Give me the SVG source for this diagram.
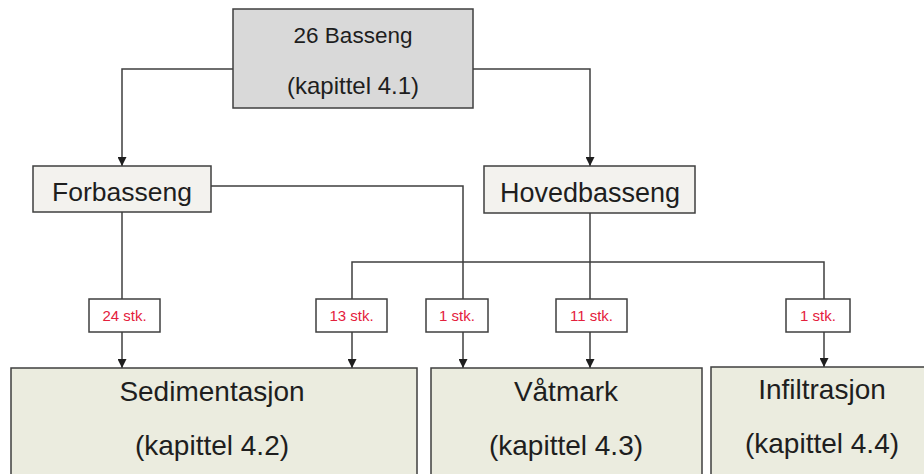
<svg xmlns="http://www.w3.org/2000/svg" width="924" height="474" viewBox="0 0 924 474">
<style>
.box{stroke:#3f3f3f;stroke-width:1.5}
.top{fill:#d9d9d9}
.mid{fill:#f3f2ee}
.bot{fill:#ebecdf}
.lbl{fill:#ffffff;stroke:#3f3f3f;stroke-width:1.5}
.t{font-family:"Liberation Sans",Arial,sans-serif;fill:#1e1e1e;text-anchor:middle}
.r{font-family:"Liberation Sans",Arial,sans-serif;fill:#e4203c;text-anchor:middle;font-size:15px}
.c{fill:none;stroke:#3f3f3f;stroke-width:1.5}
</style>
<defs>
<marker id="ah" viewBox="0 0 10 10" refX="10" refY="5" markerWidth="9" markerHeight="9" markerUnits="userSpaceOnUse" orient="auto">
<path d="M0,0 L10,5 L0,10 Z" fill="#1e1e1e"/>
</marker>
</defs>
<rect width="924" height="474" fill="#ffffff"/>
<g id="connectors">
<path class="c" d="M233,69 H122 V166" marker-end="url(#ah)"/>
<path class="c" d="M473,69 H590 V166" marker-end="url(#ah)"/>
<path class="c" d="M122,212 V299"/>
<path class="c" d="M122,332 V368" marker-end="url(#ah)"/>
<path class="c" d="M211,186 H463 V299"/>
<path class="c" d="M463,332 V368" marker-end="url(#ah)"/>
<path class="c" d="M590,213 V299"/>
<path class="c" d="M352,299 V262 H824 V299"/>
<path class="c" d="M352,332 V368" marker-end="url(#ah)"/>
<path class="c" d="M590,332 V368" marker-end="url(#ah)"/>
<path class="c" d="M824,332 V367" marker-end="url(#ah)"/>
</g>
<g id="basseng">
<rect class="box top" x="233" y="9" width="240" height="99"/>
<text class="t" x="353" y="43" font-size="22.5">26 Basseng</text>
<text class="t" x="353" y="94" font-size="24">(kapittel 4.1)</text>
</g>
<g id="forbasseng">
<rect class="box mid" x="33" y="166" width="178" height="46"/>
<text class="t" x="122" y="201" font-size="26.5">Forbasseng</text>
</g>
<g id="hovedbasseng">
<rect class="box mid" x="484" y="166" width="211" height="47"/>
<text class="t" x="590" y="202" font-size="27">Hovedbasseng</text>
</g>
<g id="label-24">
<rect class="lbl" x="89" y="299" width="71" height="33"/>
<text class="r" x="124.5" y="321">24 stk.</text>
</g>
<g id="label-13">
<rect class="lbl" x="316" y="299" width="71" height="33"/>
<text class="r" x="351.5" y="321">13 stk.</text>
</g>
<g id="label-1a">
<rect class="lbl" x="426" y="299" width="62" height="33"/>
<text class="r" x="457" y="321">1 stk.</text>
</g>
<g id="label-11">
<rect class="lbl" x="556" y="299" width="71" height="33"/>
<text class="r" x="591.5" y="321">11 stk.</text>
</g>
<g id="label-1b">
<rect class="lbl" x="786" y="299" width="64" height="33"/>
<text class="r" x="818" y="321">1 stk.</text>
</g>
<g id="sedimentasjon">
<rect class="box bot" x="11" y="368" width="406" height="120"/>
<text class="t" x="212" y="401" font-size="28">Sedimentasjon</text>
<text class="t" x="212" y="455" font-size="28">(kapittel 4.2)</text>
</g>
<g id="vatmark">
<rect class="box bot" x="431" y="368" width="271" height="120"/>
<text class="t" x="566" y="401" font-size="28">Våtmark</text>
<text class="t" x="566" y="455" font-size="28">(kapittel 4.3)</text>
</g>
<g id="infiltrasjon">
<rect class="box bot" x="711" y="367" width="222" height="120"/>
<text class="t" x="822" y="399" font-size="28">Infiltrasjon</text>
<text class="t" x="822" y="453" font-size="28">(kapittel 4.4)</text>
</g>
</svg>
